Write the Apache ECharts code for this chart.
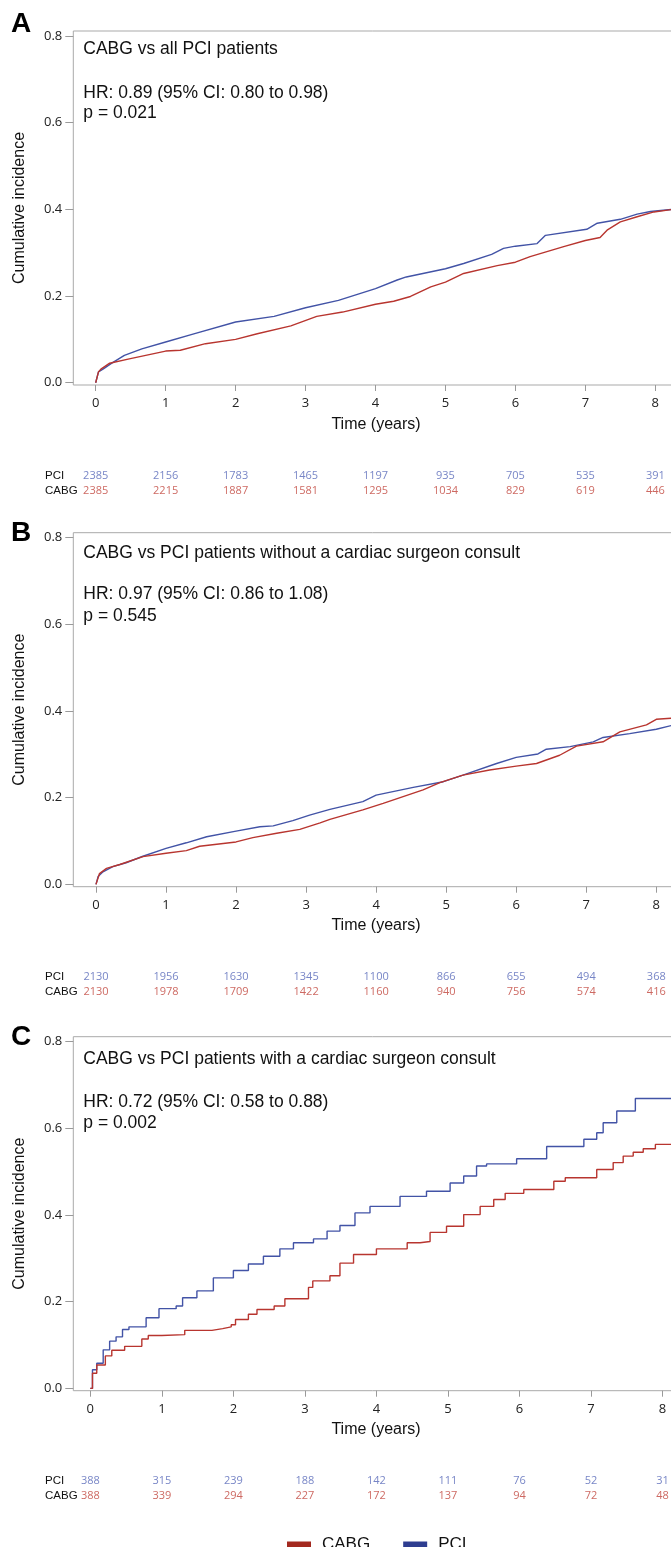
<!DOCTYPE html>
<html>
<head>
<meta charset="utf-8">
<script src="https://cdn.jsdelivr.net/npm/echarts@6/dist/echarts.min.js"></script>
<style>
  html, body { margin: 0; padding: 0; background: #fff; }
  #main { width: 671px; height: 1547px; }
</style>
</head>
<body>
<div id="main"></div>
<script>
// tick positions and labels
var xTicks = [0, 1, 2, 3, 4, 5, 6, 7, 8];
var yTicks = [0, 0.2, 0.4, 0.6, 0.8];
var panelLetters = ['A', 'B', 'C'];
var panelTitles = [
    'CABG vs all PCI patients',
    'CABG vs PCI patients without a cardiac surgeon consult',
    'CABG vs PCI patients with a cardiac surgeon consult'
];
var hrTexts = [
    'HR: 0.89 (95% CI: 0.80 to 0.98)',
    'HR: 0.97 (95% CI: 0.86 to 1.08)',
    'HR: 0.72 (95% CI: 0.58 to 0.88)'
];
var pTexts = ['p = 0.021', 'p = 0.545', 'p = 0.002'];

// curves [years, cumulative incidence]
var aPci = [[0,0],[0.04,0.025],[0.11,0.032],[0.23,0.045],[0.41,0.063],[0.66,0.078],[1.0,0.094],[1.39,0.112],[2.0,0.14],[2.55,0.153],[3.0,0.173],[3.47,0.19],[4.0,0.217],[4.31,0.237],[4.44,0.244],[5.0,0.263],[5.26,0.275],[5.66,0.296],[5.83,0.31],[6.0,0.315],[6.31,0.321],[6.43,0.34],[7.02,0.354],[7.17,0.368],[7.5,0.377],[7.74,0.389],[7.93,0.395],[8.25,0.40]];
var aCabg = [[0,0],[0.04,0.025],[0.08,0.032],[0.2,0.045],[0.48,0.055],[1.0,0.073],[1.21,0.075],[1.57,0.09],[2.0,0.1],[2.31,0.113],[2.79,0.131],[3.16,0.153],[3.53,0.163],[4.0,0.181],[4.26,0.188],[4.5,0.199],[4.79,0.221],[5.0,0.232],[5.26,0.252],[5.74,0.27],[6.0,0.278],[6.21,0.291],[6.69,0.314],[7.0,0.328],[7.21,0.335],[7.31,0.352],[7.5,0.371],[7.74,0.383],[7.98,0.394],[8.25,0.40]];
var bPci = [[0,0],[0.03,0.018],[0.1,0.029],[0.24,0.041],[0.43,0.05],[0.67,0.065],[1.0,0.083],[1.29,0.096],[1.58,0.11],[2.0,0.123],[2.34,0.133],[2.53,0.135],[2.81,0.147],[3.05,0.16],[3.34,0.173],[3.81,0.191],[4.0,0.206],[4.53,0.224],[4.96,0.237],[5.24,0.252],[5.72,0.279],[6.0,0.293],[6.31,0.301],[6.43,0.312],[6.77,0.318],[7.1,0.329],[7.24,0.339],[7.62,0.348],[8.0,0.358],[8.25,0.368]];
var bCabg = [[0,0],[0.05,0.025],[0.15,0.037],[0.34,0.046],[0.67,0.064],[1.0,0.072],[1.29,0.078],[1.48,0.088],[2.0,0.098],[2.24,0.108],[2.58,0.118],[2.91,0.127],[3.2,0.142],[3.34,0.15],[3.81,0.172],[4.1,0.187],[4.67,0.218],[4.91,0.235],[5.24,0.252],[5.62,0.264],[6.0,0.273],[6.29,0.279],[6.62,0.298],[6.86,0.319],[7.24,0.329],[7.48,0.352],[7.86,0.368],[8.0,0.381],[8.25,0.384]];
var cPci = [[0,0],[0.03,0.043],[0.09,0.058],[0.18,0.089],[0.27,0.109],[0.36,0.119],[0.45,0.136],[0.54,0.142],[0.78,0.163],[0.96,0.184],[1.2,0.19],[1.29,0.209],[1.49,0.225],[1.72,0.255],[2.0,0.272],[2.21,0.287],[2.42,0.305],[2.65,0.322],[2.84,0.336],[3.12,0.345],[3.31,0.363],[3.49,0.376],[3.7,0.405],[3.91,0.42],[4.33,0.443],[4.7,0.455],[5.03,0.474],[5.22,0.49],[5.4,0.513],[5.54,0.518],[5.96,0.53],[6.38,0.558],[6.9,0.575],[7.08,0.59],[7.17,0.613],[7.36,0.64],[7.62,0.669],[8.15,0.669]];
var cCabg = [[0,0],[0.03,0.035],[0.09,0.054],[0.21,0.075],[0.3,0.088],[0.48,0.097],[0.72,0.114],[0.81,0.122],[1.0,0.124],[1.32,0.134],[1.7,0.138],[1.85,0.142],[1.97,0.147],[2.03,0.159],[2.21,0.171],[2.33,0.182],[2.57,0.19],[2.72,0.207],[3.05,0.233],[3.11,0.248],[3.35,0.26],[3.49,0.289],[3.68,0.309],[4.0,0.322],[4.43,0.336],[4.61,0.339],[4.75,0.36],[4.98,0.374],[5.22,0.401],[5.45,0.42],[5.64,0.436],[5.8,0.45],[6.06,0.459],[6.48,0.478],[6.64,0.486],[7.08,0.505],[7.31,0.521],[7.45,0.536],[7.59,0.545],[7.73,0.553],[7.9,0.563],[8.15,0.563]];

// numbers at risk
var aRiskPci = [2385, 2156, 1783, 1465, 1197, 935, 705, 535, 391];
var aRiskCabg = [2385, 2215, 1887, 1581, 1295, 1034, 829, 619, 446];
var bRiskPci = [2130, 1956, 1630, 1345, 1100, 866, 655, 494, 368];
var bRiskCabg = [2130, 1978, 1709, 1422, 1160, 940, 756, 574, 416];
var cRiskPci = [388, 315, 239, 188, 142, 111, 76, 52, 31];
var cRiskCabg = [388, 339, 294, 227, 172, 137, 94, 72, 48];

var RED = '#b8352f', BLUE = '#4253a6';
var RED_TXT = '#c0433b', BLUE_TXT = '#5566b8';
var SANS = 'Liberation Sans, Arial, sans-serif';
var TICKFONT = 'Open Sans, sans-serif';

// layout of each panel (box top, x range, px sizes)
var layout = [
    {top: 31, xmin: -0.32, width: 617, titleY: 49.3, hrY: 92.7, pY: 113.3, letterY: 25},
    {top: 532.7, xmin: -0.324, width: 618, titleY: 552.7, hrY: 594, pY: 616, letterY: 534.3},
    {top: 1036.7, xmin: -0.238, width: 625, titleY: 1059.3, hrY: 1101.7, pY: 1123.3, letterY: 1038.5}
];
var curves = [[aCabg, aPci], [bCabg, bPci], [cCabg, cPci]];
var risks = [[aRiskPci, aRiskCabg], [bRiskPci, bRiskCabg], [cRiskPci, cRiskCabg]];

var grids = [], xAxes = [], yAxes = [], series = [], graphics = [];

layout.forEach(function (p, i) {
    var left = 73.3, boxH = 354;
    // main plot
    grids.push({left: left, top: p.top, width: p.width, height: boxH, show: true, outerBoundsMode: 'none',
        borderColor: '#a9a9a9', borderWidth: 1, backgroundColor: 'transparent'});
    xAxes.push({type: 'value', gridIndex: 2 * i, min: p.xmin, max: 8.5,
        axisLine: {show: false, onZero: false},
        axisTick: {show: true, length: 6, customValues: xTicks, lineStyle: {color: '#9a9a9a'}},
        axisLabel: {customValues: xTicks, margin: 12, fontSize: 13, fontFamily: TICKFONT, color: '#222'},
        splitLine: {show: false}});
    yAxes.push({type: 'value', gridIndex: 2 * i, min: -0.0053, max: 0.8115,
        name: 'Cumulative incidence', nameLocation: 'middle', nameGap: 46,
        nameTextStyle: {fontSize: 16, fontFamily: SANS, color: '#111'},
        axisLine: {show: false, onZero: false},
        axisTick: {show: true, length: 8, customValues: yTicks, lineStyle: {color: '#9a9a9a'}},
        axisLabel: {customValues: yTicks, margin: 11, fontSize: 13, fontFamily: TICKFONT, color: '#222',
            formatter: function (v) { return v.toFixed(1); }},
        splitLine: {show: false}});
    // risk table grid
    grids.push({left: left, top: p.top + 437, width: p.width, height: 30, outerBoundsMode: 'none'});
    xAxes.push({type: 'value', gridIndex: 2 * i + 1, min: p.xmin, max: 8.5, show: false});
    yAxes.push({type: 'category', gridIndex: 2 * i + 1, data: ['CABG', 'PCI'],
        axisLine: {show: false, onZero: false}, axisTick: {show: false},
        axisLabel: {interval: 0, align: 'left', margin: 28.3, fontSize: 11.5, fontFamily: SANS, color: '#111'}});

    var step = i === 2 ? 'end' : false;
    series.push({name: 'CABG', type: 'line', xAxisIndex: 2 * i, yAxisIndex: 2 * i, data: curves[i][0],
        showSymbol: false, step: step, itemStyle: {color: RED}, lineStyle: {color: RED, width: 1.4}, z: 3});
    series.push({name: 'PCI', type: 'line', xAxisIndex: 2 * i, yAxisIndex: 2 * i, data: curves[i][1],
        showSymbol: false, step: step, itemStyle: {color: BLUE}, lineStyle: {color: BLUE, width: 1.4}, z: 2});

    [['PCI', risks[i][0], BLUE_TXT], ['CABG', risks[i][1], RED_TXT]].forEach(function (r) {
        series.push({type: 'scatter', xAxisIndex: 2 * i + 1, yAxisIndex: 2 * i + 1, symbolSize: 1,
            itemStyle: {color: 'transparent'}, silent: true,
            data: xTicks.map(function (t, k) { return [t, r[0], r[1][k]]; }),
            label: {show: true, position: 'inside', fontSize: 11, fontFamily: TICKFONT, color: r[2],
                formatter: function (d) { return d.value[2]; }}});
    });

    graphics.push({type: 'text', left: 11, top: p.letterY - 15,
        style: {text: panelLetters[i], font: 'bold 28px ' + SANS, fill: '#000'}});
    graphics.push({type: 'text', x: 83.3, y: p.titleY,
        style: {text: panelTitles[i], font: '17.5px ' + SANS, fill: '#111', verticalAlign: 'middle'}});
    graphics.push({type: 'text', x: 83.3, y: p.hrY,
        style: {text: hrTexts[i], font: '17.5px ' + SANS, fill: '#111', verticalAlign: 'middle'}});
    graphics.push({type: 'text', x: 83.3, y: p.pY,
        style: {text: pTexts[i], font: '17.5px ' + SANS, fill: '#111', verticalAlign: 'middle'}});
    graphics.push({type: 'text', x: 376, y: p.top + 393.3,
        style: {text: 'Time (years)', font: '16px ' + SANS, fill: '#111', align: 'center', verticalAlign: 'middle'}});
});

var myChart = echarts.init(document.getElementById('main'));
var option = {
    animation: false,
    backgroundColor: '#fff',
    grid: grids,
    xAxis: xAxes,
    yAxis: yAxes,
    legend: {
        left: 282, top: 1531, itemWidth: 24, itemHeight: 6, itemGap: 33, icon: 'rect',
        data: [{name: 'CABG', itemStyle: {color: '#a3291f'}}, {name: 'PCI', itemStyle: {color: '#2e3d90'}}],
        textStyle: {fontSize: 17, fontFamily: SANS, color: '#111', padding: [0, 0, 0, 6]}
    },
    graphic: graphics,
    series: series
};
myChart.setOption(option);
</script>
</body>
</html>
